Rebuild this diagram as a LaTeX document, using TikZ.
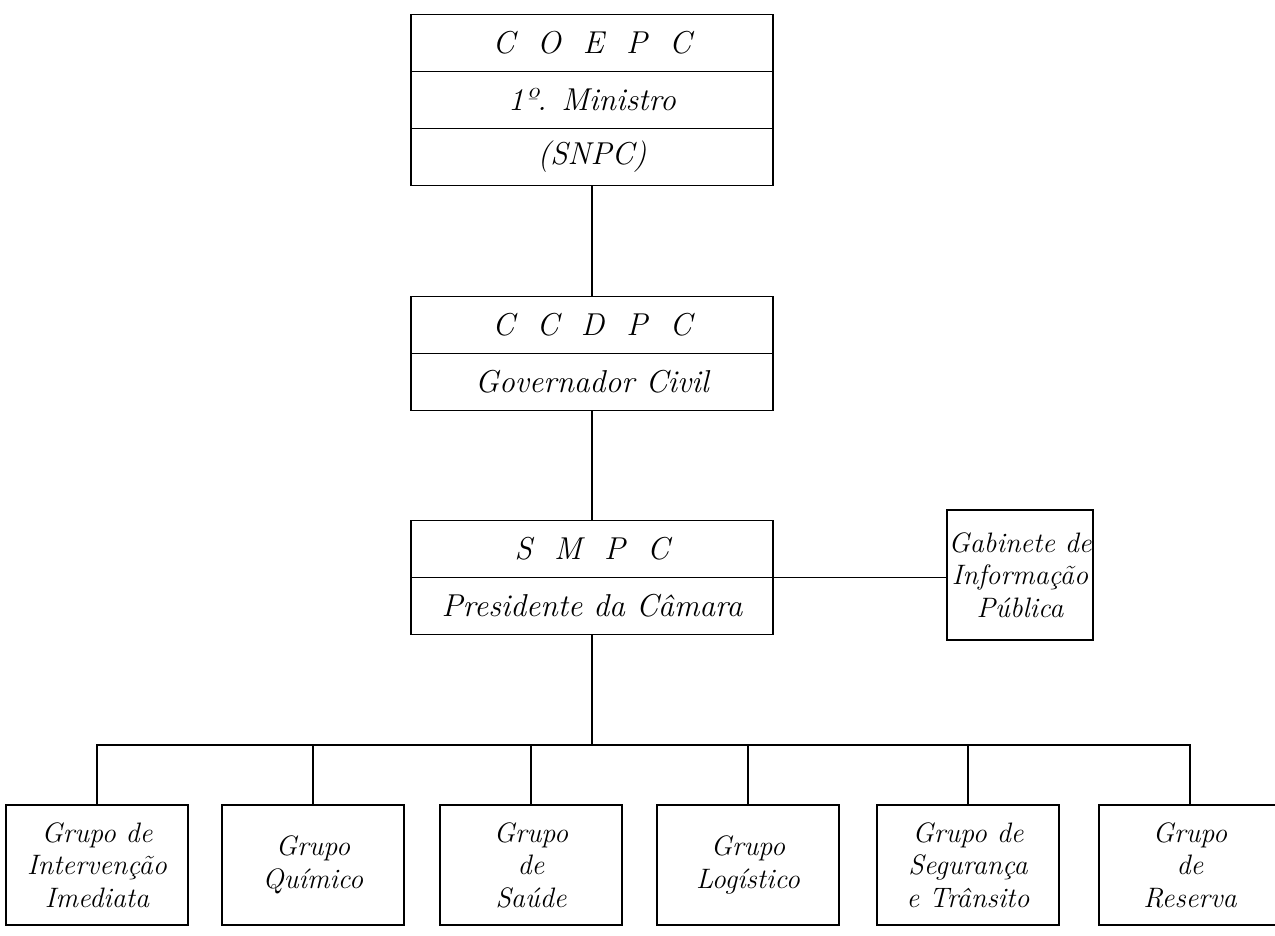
\documentclass[tikz,border=0pt]{standalone}
\usetikzlibrary{positioning}

\begin{document}
\begin{tikzpicture}[x=0.2mm, y=-0.2mm, line width=1.1pt,
	cell/.style={draw, outer sep=0pt, inner sep=0pt, minimum width=72.4mm,
		minimum height=11.4mm, font=\itshape\fontsize{18}{20}\selectfont},
	grupo/.style={draw, outer sep=0pt, inner sep=1pt, align=center,
		minimum width=36.4mm, minimum height=24mm,
		font=\itshape\fontsize{16}{18.5}\selectfont}]
	\useasboundingbox (0,0) rectangle (1275,935);
	% national level
	\node [cell] (coepc) at (592,43) {C\ \ O\ \ E\ \ P\ \ C};
	\node [cell, below=0pt of coepc] (ministro) {1º. Ministro};
	\node [cell, below=0pt of ministro] (snpc) {(SNPC)};
	% district level
	\node [cell] (ccdpc) at (592,325) {C\ \ C\ \ D\ \ P\ \ C};
	\node [cell, below=0pt of ccdpc] (governador) {Governador Civil};
	% municipal level
	\node [cell] (smpc) at (592,549) {S\ \ M\ \ P\ \ C};
	\node [cell, below=0pt of smpc] (presidente) {Presidente da Câmara};
	\node [grupo, minimum width=28mm, minimum height=26mm] (gabinete) at (1020,575)
		{Gabinete de\\Informação\\Pública};
	\foreach \x/\n/\t in {97/g1/{Grupo de\\Intervenção\\Imediata},
		313/g2/{Grupo\\Químico}, 531/g3/{Grupo\\de\\Saúde},
		748/g4/{Grupo\\Logístico}, 968/g5/{Grupo de\\Segurança\\e Trânsito},
		1190/g6/{Grupo\\de\\Reserva}}
		\node [grupo] (\n) at (\x,865) {\t};
	% connections
	\draw (snpc) -- (ccdpc);
	\draw (governador) -- (smpc);
	\draw (smpc.south east) -- (smpc.south east -| gabinete.west);
	\coordinate (bus) at (presidente.south |- 0,745);
	\draw (presidente) -- (bus);
	\foreach \n in {g1,g2,g3,g4,g5,g6}
		\draw (bus) -| (\n);
\end{tikzpicture}
\end{document}
